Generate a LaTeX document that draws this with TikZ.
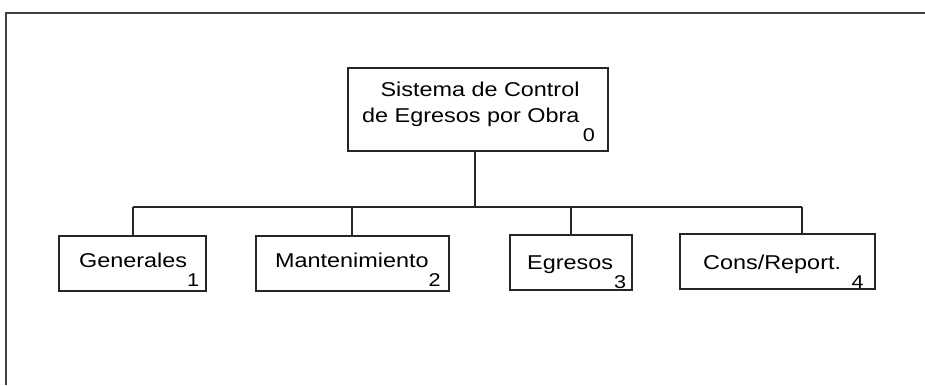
\documentclass[tikz,border=0pt]{standalone}
\usepackage{fontspec}
\setmainfont{Liberation Sans}
\begin{document}
\begin{tikzpicture}[x=1pt,y=-1pt,
  box/.style={draw=black!85, line width=1.2pt, inner sep=0pt},
  lbl/.style={inner sep=0pt, text=black, font=\fontsize{20}{24}\selectfont},
  conn/.style={draw=black!85, line width=1.2pt},
  frame/.style={draw=black!75, line width=1.6pt}]
\useasboundingbox (0,0) rectangle (925,385);
\draw[frame] (925,13) -- (6,13) -- (6,385);
\newcommand{\subnum}[1]{\raisebox{-19.5pt}{\fontsize{18.5}{18.5}\selectfont #1}}
\newcommand{\wide}[1]{\scalebox{1.17}[1]{#1}}
% boxes
\node[box, minimum width=260pt, minimum height=83pt] (top) at (478,109.5) {};
\node[box, minimum width=147pt, minimum height=55pt] (gen) at (132.5,263.5) {};
\node[box, minimum width=193pt, minimum height=55pt] (man) at (352.5,263.5) {};
\node[box, minimum width=122pt, minimum height=55pt] (egr) at (571,262.5) {};
\node[box, minimum width=195pt, minimum height=55pt] (cons) at (777.5,261.5) {};
% texts
\node[lbl, anchor=base] (t1) at (480,97) {\wide{Sistema de Control}};
\node[lbl, anchor=base west] (t2) at (362,122) {\wide{de Egresos por Obra\hspace{3pt}\subnum{0}}};
\node[lbl, anchor=base west] (tg) at (79,267) {\wide{Generales\subnum{1}}};
\node[lbl, anchor=base west] (tm) at (275,267) {\wide{Mantenimiento\subnum{2}}};
\node[lbl, anchor=base west] (te) at (527,269) {\wide{Egresos\hspace{1pt}\subnum{3}}};
\node[lbl, anchor=base west] (tc) at (703,269) {\wide{Cons/Report.\hspace{9pt}\subnum{4}}};
% connectors
\coordinate (j0) at (475,207);
\coordinate (b1) at (133,207);
\coordinate (b2) at (352,207);
\coordinate (b3) at (571,207);
\coordinate (b4) at (802,207);
\draw[conn] (top.south -| j0) -- (j0);
\draw[conn] (b1) -- (b4);
\draw[conn] (b1) -- (b1 |- gen.north);
\draw[conn] (b2) -- (b2 |- man.north);
\draw[conn] (b3) -- (b3 |- egr.north);
\draw[conn] (b4) -- (b4 |- cons.north);
\end{tikzpicture}
\end{document}
